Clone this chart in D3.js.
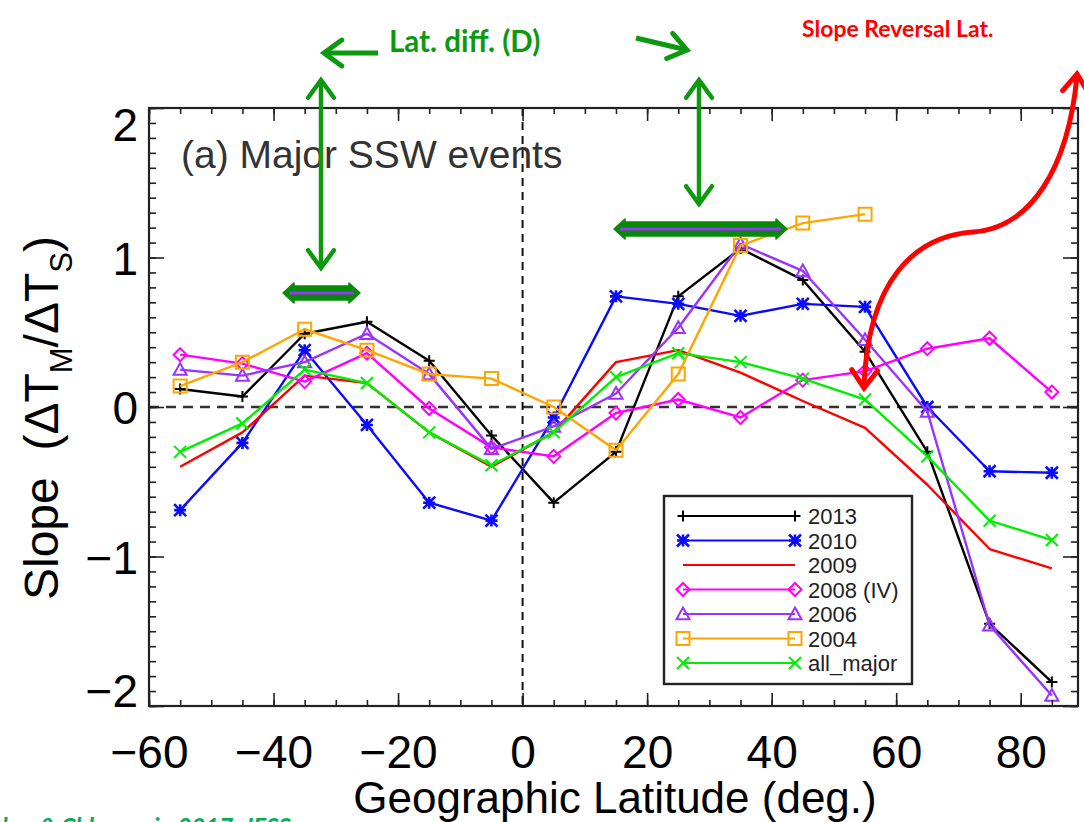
<!DOCTYPE html>
<html>
<head>
<meta charset="utf-8">
<script src="https://cdn.jsdelivr.net/npm/d3@7"></script>
<style>
  html, body { margin: 0; padding: 0; background: #fff; }
  svg { display: block; }
</style>
</head>
<body>
<svg id="chart" width="1084" height="822"></svg>
<script>
// Latitude bins (deg.) at which slopes were computed
const latitudes = [-55, -45, -35, -25, -15, -5, 5, 15, 25, 35, 45, 55, 65, 75, 85];

// Slope (dT_M / dT_S) per latitude bin for each major SSW event
const slope2013 = [0.12, 0.07, 0.49, 0.57, 0.31, -0.19, -0.64, -0.30, 0.74, 1.06, 0.85, 0.37, -0.30, -1.45, -1.84];
const slope2010 = [-0.69, -0.24, 0.38, -0.12, -0.64, -0.76, -0.07, 0.74, 0.69, 0.61, 0.69, 0.67, 0.00, -0.43, -0.44];
const slope2009 = [-0.40, -0.17, 0.21, 0.16, -0.17, -0.40, -0.17, 0.30, 0.38, 0.23, 0.04, -0.14, -0.52, -0.95, -1.08];
const slope2008 = [0.35, 0.29, 0.17, 0.36, -0.01, -0.27, -0.33, -0.04, 0.05, -0.07, 0.18, 0.24, 0.39, 0.46, 0.10];
const slope2006 = [0.25, 0.21, 0.30, 0.49, 0.22, -0.28, -0.13, 0.09, 0.53, 1.09, 0.91, 0.45, -0.03, -1.46, -1.93];
const slope2004 = [0.14, 0.30, 0.52, 0.38, 0.22, 0.19, 0.00, -0.29, 0.22, 1.08, 1.23, 1.29];
const slopeAllMajor = [-0.30, -0.11, 0.25, 0.16, -0.17, -0.39, -0.17, 0.20, 0.36, 0.30, 0.19, 0.05, -0.33, -0.76, -0.89];

// Legend labels and axis tick values
const seriesNames = ["2013", "2010", "2009", "2008 (IV)", "2006", "2004", "all_major"];
const xTickValues = [-60, -40, -20, 0, 20, 40, 60, 80];
const yTickValues = [-2, -1, 0, 1, 2];

const series = [
  { name: seriesNames[0], values: slope2013, color: "#000000", marker: "plus" },
  { name: seriesNames[1], values: slope2010, color: "#0a0aff", marker: "asterisk" },
  { name: seriesNames[2], values: slope2009, color: "#ff0000", marker: null },
  { name: seriesNames[3], values: slope2008, color: "#ff00ff", marker: "diamond" },
  { name: seriesNames[4], values: slope2006, color: "#9933ff", marker: "triangle" },
  { name: seriesNames[5], values: slope2004, color: "#ffa500", marker: "square" },
  { name: seriesNames[6], values: slopeAllMajor, color: "#00ee00", marker: "cross" }
];

const svg = d3.select("#chart");
const plot = { left: 149, right: 1078, top: 108, bottom: 706 };

const x = d3.scaleLinear().domain([-60, 89.2]).range([plot.left, plot.right]);
const y = d3.scaleLinear().domain([-2, 2]).range([plot.bottom, plot.top]);

const TEXT_FONT = "'Liberation Sans', Arial, sans-serif";
const NOTE_FONT = "Lato, 'Open Sans', sans-serif";

// Marker shapes centred on the origin
function markerPath(type, s) {
  const h = s / 2;
  switch (type) {
    case "plus": return `M${-h},0H${h}M0,${-h}V${h}`;
    case "cross": return `M${-h},${-h}L${h},${h}M${-h},${h}L${h},${-h}`;
    case "asterisk": return `M${-h},0H${h}M${-h},${-h}L${h},${h}M${-h},${h}L${h},${-h}M0,${-h}V${h}`;
    case "diamond": return `M0,${-h}L${h},0L0,${h}L${-h},0Z`;
    case "triangle": return `M0,${-h}L${h},${h * 0.8}L${-h},${h * 0.8}Z`;
    case "square": return `M${-h},${-h}H${h}V${h}H${-h}Z`;
    default: return "";
  }
}
const markerSize = { plus: 11, cross: 12, asterisk: 12, diamond: 13, triangle: 13, square: 13 };

// Clip for series lines
svg.append("defs").append("clipPath").attr("id", "plotClip")
  .append("rect").attr("x", plot.left).attr("y", plot.top)
  .attr("width", plot.right - plot.left).attr("height", plot.bottom - plot.top);

// Reference lines at slope 0 and latitude 0
svg.append("line")
  .attr("x1", plot.left).attr("x2", plot.right)
  .attr("y1", y(0)).attr("y2", y(0))
  .attr("stroke", "#333").attr("stroke-width", 2.5).attr("stroke-dasharray", "10,7");
svg.append("line")
  .attr("x1", x(0)).attr("x2", x(0))
  .attr("y1", plot.top).attr("y2", plot.bottom)
  .attr("stroke", "#111").attr("stroke-width", 2).attr("stroke-dasharray", "8,6");

// Series lines and markers
const line = d3.line().x((d, i) => x(latitudes[i])).y(d => y(d));
const seriesG = svg.append("g").attr("clip-path", "url(#plotClip)");
series.forEach(s => {
  const g = seriesG.append("g");
  g.append("path").attr("d", line(s.values))
    .attr("fill", "none").attr("stroke", s.color).attr("stroke-width", 2.4)
    .attr("stroke-linejoin", "round");
  if (s.marker) {
    g.selectAll("path.m").data(s.values).join("path").attr("class", "m")
      .attr("transform", (d, i) => `translate(${x(latitudes[i])},${y(d)})`)
      .attr("d", markerPath(s.marker, markerSize[s.marker]))
      .attr("fill", s.marker === "asterisk" ? s.color : "none")
      .attr("stroke", s.color).attr("stroke-width", s.marker === "asterisk" ? 2.6 : 2);
  }
});

// Axes: ticks point inward on all four sides
function styleAxis(g) {
  g.select(".domain").remove();
  g.selectAll(".tick line").attr("stroke", "#222").attr("stroke-width", 1.6);
}
const xMinor = d3.range(-60, 90, 5);
const yMinor = d3.range(-20, 21).map(v => v / 10);
const signed = d => d < 0 ? "\u2212" + Math.abs(d) : d;

svg.append("g").attr("transform", `translate(0,${plot.bottom})`)
  .call(d3.axisBottom(x).tickValues(xMinor).tickSize(-6).tickFormat("")).call(styleAxis);
const xAxis = svg.append("g").attr("transform", `translate(0,${plot.bottom})`)
  .call(d3.axisBottom(x).tickValues(xTickValues).tickSize(-13).tickPadding(29).tickFormat(signed))
  .call(styleAxis);
xAxis.selectAll("text").attr("font-family", TEXT_FONT).attr("font-size", 46).attr("fill", "#000");

svg.append("g").attr("transform", `translate(0,${plot.top})`)
  .call(d3.axisTop(x).tickValues(xMinor).tickSize(-6).tickFormat("")).call(styleAxis);
svg.append("g").attr("transform", `translate(0,${plot.top})`)
  .call(d3.axisTop(x).tickValues(xTickValues).tickSize(-13).tickFormat("")).call(styleAxis);

svg.append("g").attr("transform", `translate(${plot.left},0)`)
  .call(d3.axisLeft(y).tickValues(yMinor).tickSize(-7).tickFormat("")).call(styleAxis);
const yAxis = svg.append("g").attr("transform", `translate(${plot.left},0)`)
  .call(d3.axisLeft(y).tickValues(yTickValues).tickSize(-15).tickPadding(11).tickFormat(signed))
  .call(styleAxis);
yAxis.selectAll("text").attr("font-family", TEXT_FONT).attr("font-size", 46).attr("fill", "#000")
  .attr("dy", d => d === 2 ? "0.7em" : d === -2 ? "0.02em" : "0.36em");

svg.append("g").attr("transform", `translate(${plot.right},0)`)
  .call(d3.axisRight(y).tickValues(yMinor).tickSize(-7).tickFormat("")).call(styleAxis);
svg.append("g").attr("transform", `translate(${plot.right},0)`)
  .call(d3.axisRight(y).tickValues(yTickValues).tickSize(-15).tickFormat("")).call(styleAxis);

// Plot frame
svg.append("rect")
  .attr("x", plot.left).attr("y", plot.top)
  .attr("width", plot.right - plot.left).attr("height", plot.bottom - plot.top)
  .attr("fill", "none").attr("stroke", "#222").attr("stroke-width", 2.2);

// Axis titles
svg.append("text").attr("x", 615).attr("y", 813).attr("text-anchor", "middle")
  .attr("font-family", TEXT_FONT).attr("font-size", 44).attr("fill", "#000")
  .text("Geographic Latitude (deg.)");

const yTitle = svg.append("text").attr("transform", "translate(58,418) rotate(-90)")
  .attr("text-anchor", "middle").attr("font-family", TEXT_FONT).attr("font-size", 48).attr("fill", "#000");
yTitle.append("tspan").text("Slope\u00a0\u00a0(\u0394T");
yTitle.append("tspan").attr("dy", 14).attr("font-size", 31).text("M");
yTitle.append("tspan").attr("dy", -14).text("/\u0394T");
yTitle.append("tspan").attr("dy", 14).attr("font-size", 31).text("S");
yTitle.append("tspan").attr("dy", -14).text(")");

// Panel title
svg.append("text").attr("x", 181).attr("y", 168)
  .attr("font-family", TEXT_FONT).attr("font-size", 39).attr("fill", "#333")
  .text("(a) Major SSW events");

// Legend
const lg = svg.append("g");
lg.append("rect").attr("x", 664).attr("y", 496).attr("width", 248).attr("height", 188)
  .attr("fill", "#fff").attr("stroke", "#222").attr("stroke-width", 2.4);
series.forEach((s, i) => {
  const ly = 516 + i * 24.5;
  lg.append("line").attr("x1", 683).attr("x2", 795).attr("y1", ly).attr("y2", ly)
    .attr("stroke", s.color).attr("stroke-width", 2.2);
  if (s.marker) {
    [683, 795].forEach(mx => {
      lg.append("path").attr("transform", `translate(${mx},${ly})`)
        .attr("d", markerPath(s.marker, markerSize[s.marker]))
        .attr("fill", s.marker === "asterisk" ? s.color : "none")
        .attr("stroke", s.color).attr("stroke-width", s.marker === "asterisk" ? 2.6 : 2);
    });
  }
  lg.append("text").attr("x", 808).attr("y", ly + 8)
    .attr("font-family", TEXT_FONT).attr("font-size", 22).attr("fill", "#222").text(s.name);
});

// Annotations
const GREEN = "#0d990d";
function openHead(g, tipX, tipY, angle, color, len, width) {
  const a1 = angle + Math.PI * 0.8, a2 = angle - Math.PI * 0.8;
  g.append("path")
    .attr("d", `M${tipX + len * Math.cos(a1)},${tipY + len * Math.sin(a1)}L${tipX},${tipY}L${tipX + len * Math.cos(a2)},${tipY + len * Math.sin(a2)}`)
    .attr("fill", "none").attr("stroke", color).attr("stroke-width", width)
    .attr("stroke-linecap", "round").attr("stroke-linejoin", "miter");
}
function arrow(x1, y1, x2, y2, color, w, both) {
  const g = svg.append("g");
  g.append("line").attr("x1", x1).attr("y1", y1).attr("x2", x2).attr("y2", y2)
    .attr("stroke", color).attr("stroke-width", w).attr("stroke-linecap", "butt");
  const ang = Math.atan2(y2 - y1, x2 - x1);
  openHead(g, x2, y2, ang, color, 22, w);
  if (both) openHead(g, x1, y1, ang + Math.PI, color, 22, w);
}
svg.append("text").attr("x", 389).attr("y", 52)
  .attr("font-family", NOTE_FONT).attr("font-weight", "bold")
  .attr("font-size", 29.5).attr("fill", GREEN).text("Lat. diff. (D)");
arrow(378, 53, 324, 53, GREEN, 5, false);
arrow(636, 38, 687, 50, GREEN, 5, false);
arrow(321, 80, 321, 268, GREEN, 4.5, true);
arrow(699, 80, 699, 204, GREEN, 4.5, true);

// Latitude-difference bars
function latBar(x1, x2, yy) {
  const g = svg.append("g");
  const hw = 7, tip = 11, flare = 10;
  g.append("path")
    .attr("d", `M${x1},${yy}L${x1 + tip},${yy - flare}V${yy - hw}H${x2 - tip}V${yy - flare}L${x2},${yy}L${x2 - tip},${yy + flare}V${yy + hw}H${x1 + tip}V${yy + flare}Z`)
    .attr("fill", "#078a07").attr("stroke", "#078a07").attr("stroke-width", 1.5).attr("stroke-linejoin", "round");
  g.append("line").attr("x1", x1 + 6).attr("x2", x2 - 6).attr("y1", yy).attr("y2", yy)
    .attr("stroke", "#9933ff").attr("stroke-width", 3);
}
latBar(283, 360, 293);
latBar(614, 787, 229);

// Slope reversal annotation
const RED = "#ff0000";
svg.append("text").attr("x", 802).attr("y", 37)
  .attr("font-family", NOTE_FONT).attr("font-weight", "bold")
  .attr("font-size", 23).attr("fill", RED).text("Slope Reversal Lat.");
const rg = svg.append("g");
rg.append("path")
  .attr("d", "M864,386C868,280 915,236 973,232C1030,228 1068,170 1077,76")
  .attr("fill", "none").attr("stroke", RED).attr("stroke-width", 5);
openHead(rg, 864, 388, Math.PI / 2 + 0.04, RED, 22, 5);
openHead(rg, 1077, 74, -Math.PI / 2 + 0.08, RED, 22, 5);

// Citation (runs off the bottom edge)
svg.append("text").attr("x", 291).attr("y", 836).attr("text-anchor", "end")
  .attr("font-family", NOTE_FONT).attr("font-weight", "bold").attr("font-style", "italic")
  .attr("font-size", 24).attr("fill", "#00b050").text("Laskar & Chhamaria 2017, JESS");
</script>
</body>
</html>
